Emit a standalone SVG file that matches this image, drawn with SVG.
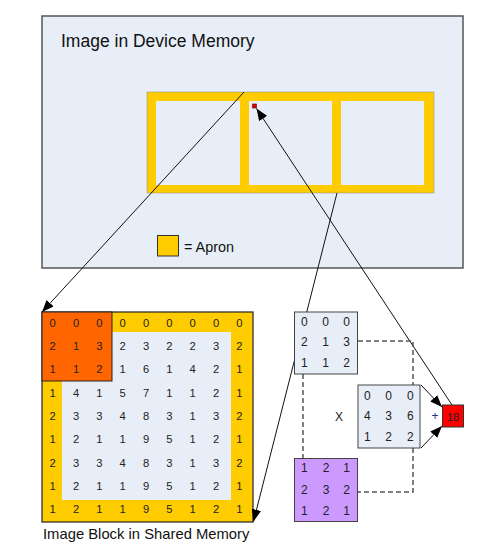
<svg xmlns="http://www.w3.org/2000/svg" width="504" height="554" viewBox="0 0 504 554">
<defs>
<style>
.lbl{font-family:"Liberation Sans",Arial,sans-serif;fill:#111}
.n{font-family:"Liberation Sans",Arial,sans-serif;font-size:11.2px;fill:#222;text-anchor:middle;dominant-baseline:central}
.m{font-family:"Liberation Sans",Arial,sans-serif;font-size:12px;fill:#222;text-anchor:middle;dominant-baseline:central}
.conn{stroke:#111;stroke-width:1;fill:none}
.dash{stroke:#555;stroke-width:1.5;fill:none;stroke-dasharray:5,3}
.box{stroke:#444;stroke-width:1}
</style>
<marker id="ah" markerUnits="userSpaceOnUse" markerWidth="13" markerHeight="10" refX="12" refY="4.75" orient="auto">
<path d="M0,0 L12,4.75 L0,9.5 z" fill="#000"/>
</marker>
</defs>
<rect width="504" height="554" fill="#fff"/>

<g id="device-memory">
<rect x="42" y="16" width="421" height="252" fill="#E8EEF7" stroke="#555" stroke-width="1.5"/>
<text class="lbl" x="61" y="47" font-size="17.5">Image in Device Memory</text>
<rect x="147" y="92" width="287" height="101" fill="#FFCC00" stroke="#888" stroke-width="0.5"/>
<rect x="156" y="101" width="84" height="84" fill="#E8EEF7"/>
<rect x="249" y="101" width="83" height="84" fill="#E8EEF7"/>
<rect x="341" y="101" width="83" height="84" fill="#E8EEF7"/>
<rect x="252.5" y="104" width="4" height="4" fill="#E00000" stroke="#600" stroke-width="0.6"/>
</g>

<g id="legend">
<rect x="157.5" y="235.5" width="21" height="20.5" fill="#FFCC00" stroke="#333" stroke-width="1"/>
<text class="lbl" x="184" y="252" font-size="14.4">= Apron</text>
</g>

<g id="shared-block">
<rect x="42" y="312" width="211" height="210" fill="#FFCC00" stroke="#222" stroke-width="1.2"/>
<rect x="62" y="332" width="169" height="168" fill="#E8EEF7"/>
<rect x="42" y="312" width="70" height="69" fill="#FF6600" stroke="#222" stroke-width="1"/>
<g>
<text class="n" x="52.7" y="322.7">0</text><text class="n" x="76" y="322.7">0</text><text class="n" x="99.3" y="322.7">0</text><text class="n" x="122.6" y="322.7">0</text><text class="n" x="146" y="322.7">0</text><text class="n" x="169.3" y="322.7">0</text><text class="n" x="192.6" y="322.7">0</text><text class="n" x="216" y="322.7">0</text><text class="n" x="239.3" y="322.7">0</text>
<text class="n" x="52.7" y="346">2</text><text class="n" x="76" y="346">1</text><text class="n" x="99.3" y="346">3</text><text class="n" x="122.6" y="346">2</text><text class="n" x="146" y="346">3</text><text class="n" x="169.3" y="346">2</text><text class="n" x="192.6" y="346">2</text><text class="n" x="216" y="346">3</text><text class="n" x="239.3" y="346">2</text>
<text class="n" x="52.7" y="369.3">1</text><text class="n" x="76" y="369.3">1</text><text class="n" x="99.3" y="369.3">2</text><text class="n" x="122.6" y="369.3">1</text><text class="n" x="146" y="369.3">6</text><text class="n" x="169.3" y="369.3">1</text><text class="n" x="192.6" y="369.3">4</text><text class="n" x="216" y="369.3">2</text><text class="n" x="239.3" y="369.3">1</text>
<text class="n" x="52.7" y="392.6">1</text><text class="n" x="76" y="392.6">4</text><text class="n" x="99.3" y="392.6">1</text><text class="n" x="122.6" y="392.6">5</text><text class="n" x="146" y="392.6">7</text><text class="n" x="169.3" y="392.6">1</text><text class="n" x="192.6" y="392.6">1</text><text class="n" x="216" y="392.6">2</text><text class="n" x="239.3" y="392.6">1</text>
<text class="n" x="52.7" y="416">2</text><text class="n" x="76" y="416">3</text><text class="n" x="99.3" y="416">3</text><text class="n" x="122.6" y="416">4</text><text class="n" x="146" y="416">8</text><text class="n" x="169.3" y="416">3</text><text class="n" x="192.6" y="416">1</text><text class="n" x="216" y="416">3</text><text class="n" x="239.3" y="416">2</text>
<text class="n" x="52.7" y="439.3">1</text><text class="n" x="76" y="439.3">2</text><text class="n" x="99.3" y="439.3">1</text><text class="n" x="122.6" y="439.3">1</text><text class="n" x="146" y="439.3">9</text><text class="n" x="169.3" y="439.3">5</text><text class="n" x="192.6" y="439.3">1</text><text class="n" x="216" y="439.3">2</text><text class="n" x="239.3" y="439.3">1</text>
<text class="n" x="52.7" y="462.6">2</text><text class="n" x="76" y="462.6">3</text><text class="n" x="99.3" y="462.6">3</text><text class="n" x="122.6" y="462.6">4</text><text class="n" x="146" y="462.6">8</text><text class="n" x="169.3" y="462.6">3</text><text class="n" x="192.6" y="462.6">1</text><text class="n" x="216" y="462.6">3</text><text class="n" x="239.3" y="462.6">2</text>
<text class="n" x="52.7" y="486">1</text><text class="n" x="76" y="486">2</text><text class="n" x="99.3" y="486">1</text><text class="n" x="122.6" y="486">1</text><text class="n" x="146" y="486">9</text><text class="n" x="169.3" y="486">5</text><text class="n" x="192.6" y="486">1</text><text class="n" x="216" y="486">2</text><text class="n" x="239.3" y="486">1</text>
<text class="n" x="52.7" y="509.3">1</text><text class="n" x="76" y="509.3">2</text><text class="n" x="99.3" y="509.3">1</text><text class="n" x="122.6" y="509.3">1</text><text class="n" x="146" y="509.3">9</text><text class="n" x="169.3" y="509.3">5</text><text class="n" x="192.6" y="509.3">1</text><text class="n" x="216" y="509.3">2</text><text class="n" x="239.3" y="509.3">1</text>
</g>
<text class="lbl" x="43" y="539" font-size="14.8">Image Block in Shared Memory</text>
</g>

<g id="connectors">
<line class="conn" x1="244" y1="92" x2="42" y2="312" marker-end="url(#ah)"/>
<line class="conn" x1="337" y1="193" x2="253.5" y2="521.5" marker-end="url(#ah)"/>
<line class="conn" x1="452" y1="405" x2="256.5" y2="108.5" marker-end="url(#ah)"/>
<line class="conn" x1="421" y1="385" x2="442" y2="407" marker-end="url(#ah)"/>
<line class="conn" x1="421" y1="448" x2="442" y2="426" marker-end="url(#ah)"/>
<polyline class="dash" points="358,341 413,341 413,385"/>
<line class="dash" x1="303" y1="374" x2="303" y2="459"/>
<polyline class="dash" points="413,448 413,492 358,492"/>
</g>

<g id="patch">
<rect class="box" x="294.5" y="312" width="63" height="62" fill="#E8EEF7"/>
<text class="m" x="304.3" y="321.7">0</text><text class="m" x="325.7" y="321.7">0</text><text class="m" x="346.7" y="321.7">0</text>
<text class="m" x="304.3" y="342.3">2</text><text class="m" x="325.7" y="342.3">1</text><text class="m" x="346.7" y="342.3">3</text>
<text class="m" x="304.3" y="363.3">1</text><text class="m" x="325.7" y="363.3">1</text><text class="m" x="346.7" y="363.3">2</text>
</g>

<g id="operator-x">
<text class="m" x="339" y="417">X</text>
</g>

<g id="product">
<rect class="box" x="358" y="385" width="62" height="63" fill="#E8EEF7"/>
<text class="m" x="367.3" y="395.7">0</text><text class="m" x="388.7" y="395.7">0</text><text class="m" x="410.3" y="395.7">0</text>
<text class="m" x="367.3" y="416">4</text><text class="m" x="388.7" y="416">3</text><text class="m" x="410.3" y="416">6</text>
<text class="m" x="367.3" y="436.7">1</text><text class="m" x="388.7" y="436.7">2</text><text class="m" x="410.3" y="436.7">2</text>
</g>

<g id="operator-plus">
<text class="m" x="435" y="416" style="fill:#1a3080">+</text>
</g>

<g id="result">
<rect x="442.5" y="405" width="21" height="22" fill="#FF0000" stroke="#333" stroke-width="1"/>
<text class="m" x="453" y="416.5" style="font-size:11px">18</text>
</g>

<g id="kernel">
<rect class="box" x="294.5" y="458.5" width="63" height="63" fill="#CC99FF"/>
<text class="m" x="304.3" y="468.3">1</text><text class="m" x="326" y="468.3">2</text><text class="m" x="346.7" y="468.3">1</text>
<text class="m" x="304.3" y="490">2</text><text class="m" x="326" y="490">3</text><text class="m" x="346.7" y="490">2</text>
<text class="m" x="304.3" y="510.7">1</text><text class="m" x="326" y="510.7">2</text><text class="m" x="346.7" y="510.7">1</text>
</g>
</svg>
